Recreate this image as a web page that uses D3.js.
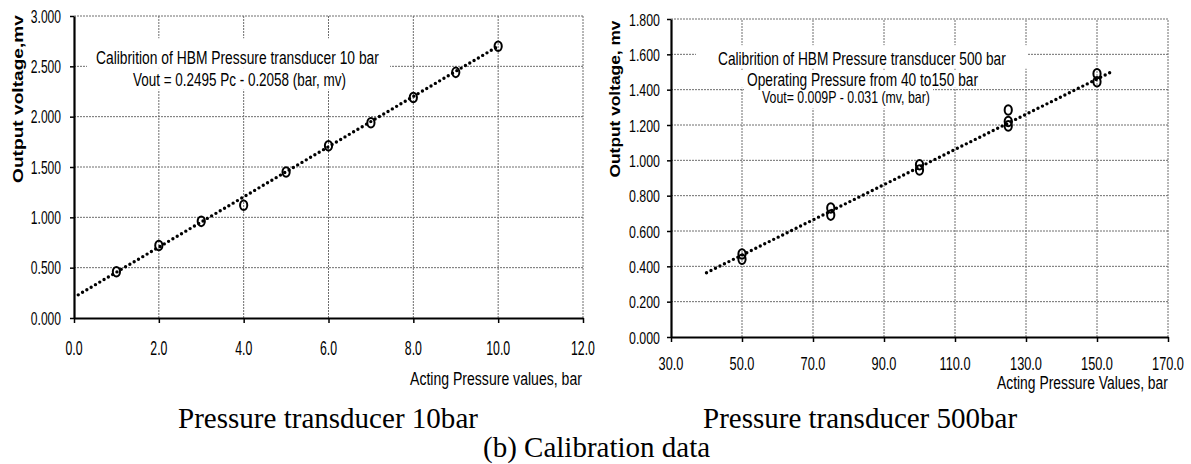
<!DOCTYPE html>
<html><head><meta charset="utf-8">
<script src="https://cdn.jsdelivr.net/npm/d3@7"></script>
<style>html,body{margin:0;padding:0;background:#fff}svg{display:block}</style>
</head><body><svg id="c" width="1191" height="464"></svg>
<script>
// ---------- data ----------
const leftPressure = [1, 2, 3, 4, 5, 6, 7, 8, 9, 10];
const leftVoltage = [0.46, 0.72, 0.96, 1.12, 1.45, 1.71, 1.94, 2.19, 2.44, 2.70];
const leftTrendPressure = [0.1, 10];
const leftTrendVoltage = [0.23, 2.70];
const leftXTicks = [0, 2, 4, 6, 8, 10, 12];
const leftYTicks = [0, 0.5, 1, 1.5, 2, 2.5, 3];

const rightPressure = [50, 50, 75, 75, 100, 100, 125, 125, 125, 150, 150];
const rightVoltage = [0.47, 0.44, 0.73, 0.69, 0.975, 0.945, 1.285, 1.22, 1.195, 1.49, 1.445];
const rightTrendPressure = [40, 154];
const rightTrendVoltage = [0.364, 1.50];
const rightXTicks = [30, 50, 70, 90, 110, 130, 150, 170];
const rightYTicks = [0, 0.2, 0.4, 0.6, 0.8, 1.0, 1.2, 1.4, 1.6, 1.8];

const leftNotes = ["Calibrition of HBM Pressure transducer 10 bar", "Vout = 0.2495  Pc  - 0.2058  (bar, mv)"];
const rightNotes = ["Calibrition of HBM Pressure transducer 500 bar", "Operating Pressure from 40 to150 bar", "Vout= 0.009P - 0.031 (mv, bar)"];
const captions = ["Pressure transducer 10bar", "Pressure transducer 500bar", "(b) Calibration data"];

// ---------- drawing ----------
const SANS = "'Liberation Sans',Arial,sans-serif";
const SERIF = "'Liberation Serif','Times New Roman',serif";
const svg = d3.select("#c");
svg.append("rect").attr("width", 1191).attr("height", 464).attr("fill", "#fff");

function label(g, s, x, y, o) {
  const t = g.append("text").text(s)
    .attr("font-family", o.family || SANS)
    .attr("font-size", o.size)
    .attr("font-weight", o.weight || "normal")
    .attr("text-anchor", o.anchor || "start")
    .attr("fill", "#000");
  let sx = o.sx || 1;
  if (o.len) sx = o.len / t.node().getComputedTextLength();
  t.attr("transform", `translate(${x},${y})` + (o.rotate ? " rotate(-90)" : "") + ` scale(${sx},1)`);
  return t;
}

function drawChart(c) {
  const g = svg.append("g");
  const x = d3.scaleLinear().domain(c.xDomain).range(c.xRange);
  const y = d3.scaleLinear().domain(c.yDomain).range(c.yRange);
  const [x0, x1] = c.xRange, [y0, y1] = c.yRange;

  // grid
  const grid = g.append("g").attr("stroke", "#6e6e6e").attr("stroke-width", 1).attr("stroke-dasharray", "2,1");
  c.xTicks.slice(1).forEach(v => grid.append("line").attr("x1", x(v)).attr("x2", x(v)).attr("y1", y0).attr("y2", y1));
  c.yTicks.slice(1).forEach(v => grid.append("line").attr("y1", y(v)).attr("y2", y(v)).attr("x1", x0).attr("x2", x1));

  // annotation text with white boxes
  const ann = g.append("g");
  c.notes.forEach((n, i) => {
    const s = c.noteStyle[i];
    ann.append("rect").attr("fill", "#fff")
      .attr("x", s.x - s.pad[0]).attr("width", s.len + s.pad[0] + s.pad[1])
      .attr("y", s.y - 0.905 * s.size - s.pad[2]).attr("height", 1.117 * s.size + s.pad[2] + s.pad[3]);
  });
  c.notes.forEach((n, i) => {
    const s = c.noteStyle[i];
    label(ann, n, s.x, s.y, {size: s.size, len: s.len});
  });

  // trend line
  const pts = c.trendX.map((v, i) => [v, c.trendY[i]]);
  g.append("path").attr("d", d3.line().x(d => x(d[0])).y(d => y(d[1]))(pts))
    .attr("fill", "none").attr("stroke", "#000").attr("stroke-width", 3.4)
    .attr("stroke-linecap", "round").attr("stroke-dasharray", "0,5");

  // markers
  g.append("g").selectAll("ellipse").data(c.px.map((v, i) => [v, c.py[i]])).join("ellipse")
    .attr("cx", d => x(d[0])).attr("cy", d => y(d[1])).attr("rx", 3.6).attr("ry", 4.8)
    .attr("fill", "none").attr("stroke", "#000").attr("stroke-width", 2);

  // axes
  const ax = g.append("g").attr("transform", `translate(0,${y0})`)
    .call(d3.axisBottom(x).tickValues(c.xTicks).tickSize(5).tickSizeOuter(0).tickFormat(""));
  const ay = g.append("g").attr("transform", `translate(${x0},0)`)
    .call(d3.axisLeft(y).tickValues(c.yTicks).tickSize(4).tickSizeOuter(0).tickFormat(""));
  [ax, ay].forEach(a => {
    a.select(".domain").attr("stroke", "#000").attr("stroke-width", 2.2);
    a.selectAll(".tick line").attr("stroke", "#000").attr("stroke-width", 1.5);
  });

  // tick labels
  c.xTicks.forEach(v => label(g, c.xFmt(v), x(v), c.xLabelBase, {size: c.xLabelSize, sx: c.xLabelSx, anchor: "middle"}));
  c.yTicks.forEach(v => label(g, c.yFmt(v), c.yLabelRight, y(v) + c.yLabelDy, {size: c.yLabelSize, sx: c.yLabelSx, anchor: "end"}));

  // axis titles
  label(g, c.yTitle, c.yTitlePos[0], c.yTitlePos[1], {weight: "bold", size: 14.5, rotate: true, anchor: "middle", len: c.yTitleLen});
  label(g, c.xTitle, c.xTitlePos[0], c.xTitlePos[1], {size: 18.5, len: c.xTitleLen});
}

drawChart({
  xDomain: [0, 12], yDomain: [0, 3], xRange: [74, 583], yRange: [318, 16],
  xTicks: leftXTicks, yTicks: leftYTicks, px: leftPressure, py: leftVoltage,
  trendX: leftTrendPressure, trendY: leftTrendVoltage,
  xFmt: d3.format(".1f"), yFmt: d3.format(".3f"),
  xLabelBase: 355, xLabelSize: 20.5, xLabelSx: 0.6,
  yLabelRight: 61, yLabelDy: 6.5, yLabelSize: 17.5, yLabelSx: 0.69,
  yTitle: "Output voltage,mv", yTitlePos: [23, 99], yTitleLen: 168,
  xTitle: "Acting Pressure values, bar", xTitlePos: [410, 385], xTitleLen: 172,
  notes: leftNotes,
  noteStyle: [
    {x: 96, y: 64, len: 283, size: 18.5, pad: [9, 11, 9, 0]},
    {x: 133, y: 86, len: 213, size: 17.5, pad: [9, 10, 2, 0]}
  ]
});

drawChart({
  xDomain: [30, 170], yDomain: [0, 1.8], xRange: [671, 1168], yRange: [337, 19],
  xTicks: rightXTicks, yTicks: rightYTicks, px: rightPressure, py: rightVoltage,
  trendX: rightTrendPressure, trendY: rightTrendVoltage,
  xFmt: d3.format(".1f"), yFmt: d3.format(".3f"),
  xLabelBase: 370, xLabelSize: 18.5, xLabelSx: 0.69,
  yLabelRight: 660, yLabelDy: 6.5, yLabelSize: 16.5, yLabelSx: 0.75,
  yTitle: "Output voltage, mv", yTitlePos: [620, 99], yTitleLen: 157,
  xTitle: "Acting Pressure Values, bar", xTitlePos: [997, 389], xTitleLen: 171,
  notes: rightNotes,
  noteStyle: [
    {x: 718, y: 65, len: 288, size: 17.5, pad: [22, 21, 4, 0]},
    {x: 747, y: 86, len: 231, size: 17.5, pad: [15, 15, 0, -2]},
    {x: 762, y: 103, len: 168, size: 16.5, pad: [18, 3, 1, 2]}
  ]
});

// captions
const cap = svg.append("g");
label(cap, captions[0], 178, 428, {family: SERIF, size: 29, len: 300});
label(cap, captions[1], 703, 428, {family: SERIF, size: 29});
label(cap, captions[2], 483, 457, {family: SERIF, size: 29});
</script></body></html>
